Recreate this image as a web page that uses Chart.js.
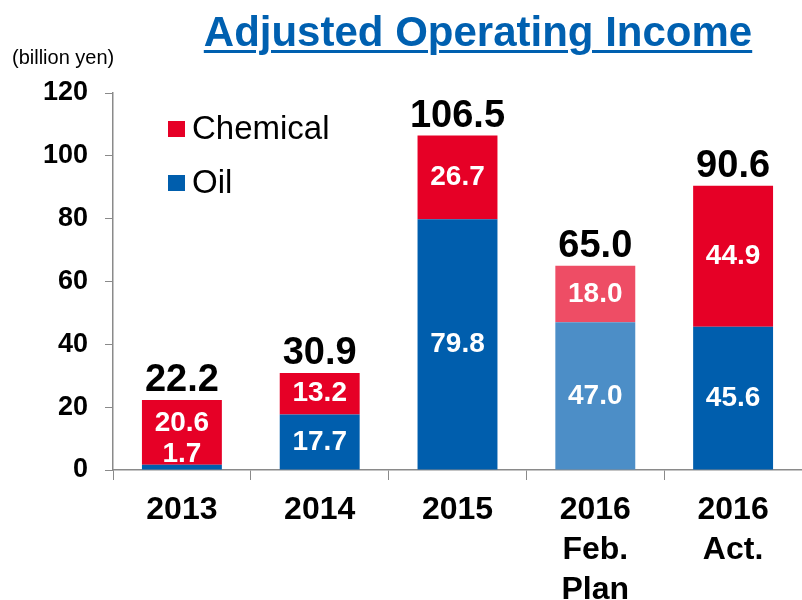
<!DOCTYPE html>
<html>
<head>
<meta charset="utf-8">
<script src="https://cdn.jsdelivr.net/npm/chart.js@4/dist/chart.umd.min.js"></script>
<style>
    body { margin: 0; background: #fff; }
    #wrap { position: relative; width: 802px; height: 600px; }
    #titulo {
        position: absolute; left: 0; width: 956px; top: 8px; margin: 0;
        text-align: center; font: bold 42px "Liberation Sans", Arial, sans-serif;
        color: #0060B0; text-decoration: underline; text-decoration-thickness: 3px;
        text-underline-offset: 4px;
    }
    #unidad {
        position: absolute; left: 12px; top: 46px;
        font: 20px "Liberation Sans", Arial, sans-serif; color: #000;
    }
</style>
</head>
<body>
<div id="wrap">
    <canvas id="ingresoCanvas" width="802" height="600"></canvas>
    <h1 id="titulo">Adjusted Operating Income</h1>
    <div id="unidad">(billion yen)</div>
</div>
<script>
// datos
var categorias = [['2013'], ['2014'], ['2015'], ['2016', 'Feb.', 'Plan'], ['2016', 'Act.']];
var valoresOil = [1.7, 17.7, 79.8, 47.0, 45.6];
var valoresChemical = [20.6, 13.2, 26.7, 18.0, 44.9];
var totales = [22.2, 30.9, 106.5, 65.0, 90.6];
var etiquetasY = [0, 20, 40, 60, 80, 100, 120];

var AZUL = '#005EAD', AZUL_CLARO = '#4C8EC7';
var ROJO = '#E60026', ROSA = '#EE4D65';
var GRIS = '#8A8A8A';
var FUENTE = '"Liberation Sans", Arial, sans-serif';

// etiquetas dentro y encima de las barras
const pluginEtiquetas = {
    id: 'etiquetas',
    afterDatasetsDraw(chart) {
        const ctx = chart.ctx;
        const oil = chart.getDatasetMeta(0).data;
        const chem = chart.getDatasetMeta(1).data;
        ctx.save();
        ctx.textAlign = 'center';
        ctx.textBaseline = 'middle';
        oil.forEach((barra, i) => {
            const alto = barra.base - barra.y;
            let yOil = (barra.y + barra.base) / 2;
            let yChem = (chem[i].y + chem[i].base) / 2;
            if (alto < 20) {
                // segmento muy delgado: la etiqueta sube al segmento de arriba
                yOil = barra.y - 10;
                yChem -= 9;
            }
            ctx.fillStyle = '#fff';
            ctx.font = 'bold 28px ' + FUENTE;
            ctx.fillText(valoresOil[i].toFixed(1), barra.x, yOil);
            ctx.fillText(valoresChemical[i].toFixed(1), chem[i].x, yChem);
            ctx.fillStyle = '#000';
            ctx.font = 'bold 38px ' + FUENTE;
            ctx.fillText(totales[i].toFixed(1), chem[i].x, chem[i].y - 19);
        });
        ctx.restore();
    }
};

// leyenda dentro del area del grafico
const pluginLeyenda = {
    id: 'leyendaInterna',
    afterDraw(chart) {
        const ctx = chart.ctx;
        const items = [
            { texto: 'Chemical', color: ROJO, y: 129 },
            { texto: 'Oil', color: AZUL, y: 183 }
        ];
        ctx.save();
        ctx.font = '33px ' + FUENTE;
        ctx.textBaseline = 'middle';
        ctx.textAlign = 'left';
        items.forEach(it => {
            ctx.fillStyle = it.color;
            ctx.fillRect(168, it.y - 8, 17, 16);
            ctx.fillStyle = '#000';
            ctx.fillText(it.texto, 192, it.y + 1);
        });
        ctx.restore();
    }
};

const ctx = document.getElementById('ingresoCanvas').getContext('2d');
new Chart(ctx, {
    type: 'bar',
    data: {
        labels: categorias,
        datasets: [{
            label: 'Oil',
            data: valoresOil,
            backgroundColor: [AZUL, AZUL, AZUL, AZUL_CLARO, AZUL],
            barPercentage: 0.58,
            categoryPercentage: 1
        }, {
            label: 'Chemical',
            data: valoresChemical,
            backgroundColor: [ROJO, ROJO, ROJO, ROSA, ROJO],
            barPercentage: 0.58,
            categoryPercentage: 1
        }]
    },
    options: {
        responsive: false,
        animation: false,
        devicePixelRatio: 1,
        layout: { padding: { top: 93, right: 0, left: 0, bottom: 0 } },
        scales: {
            x: {
                stacked: true,
                afterFit: scale => { scale.height = 130; },
                grid: { drawOnChartArea: false, tickLength: 10, color: GRIS },
                border: { color: GRIS, width: 1.5 },
                ticks: {
                    color: '#000',
                    padding: 10,
                    font: { family: FUENTE, size: 32, weight: 'bold', lineHeight: 1.25 }
                }
            },
            y: {
                stacked: true,
                min: 0,
                max: 120,
                afterFit: scale => { scale.width = 113; },
                afterBuildTicks: axis => { axis.ticks = etiquetasY.map(v => ({ value: v })); },
                grid: { drawOnChartArea: false, tickLength: 8, color: GRIS },
                border: { color: GRIS, width: 1.5 },
                ticks: {
                    color: '#000',
                    padding: 17,
                    font: { family: FUENTE, size: 27, weight: 'bold' }
                }
            }
        },
        plugins: {
            legend: { display: false },
            tooltip: { enabled: false }
        }
    },
    plugins: [pluginEtiquetas, pluginLeyenda]
});
</script>
</body>
</html>
